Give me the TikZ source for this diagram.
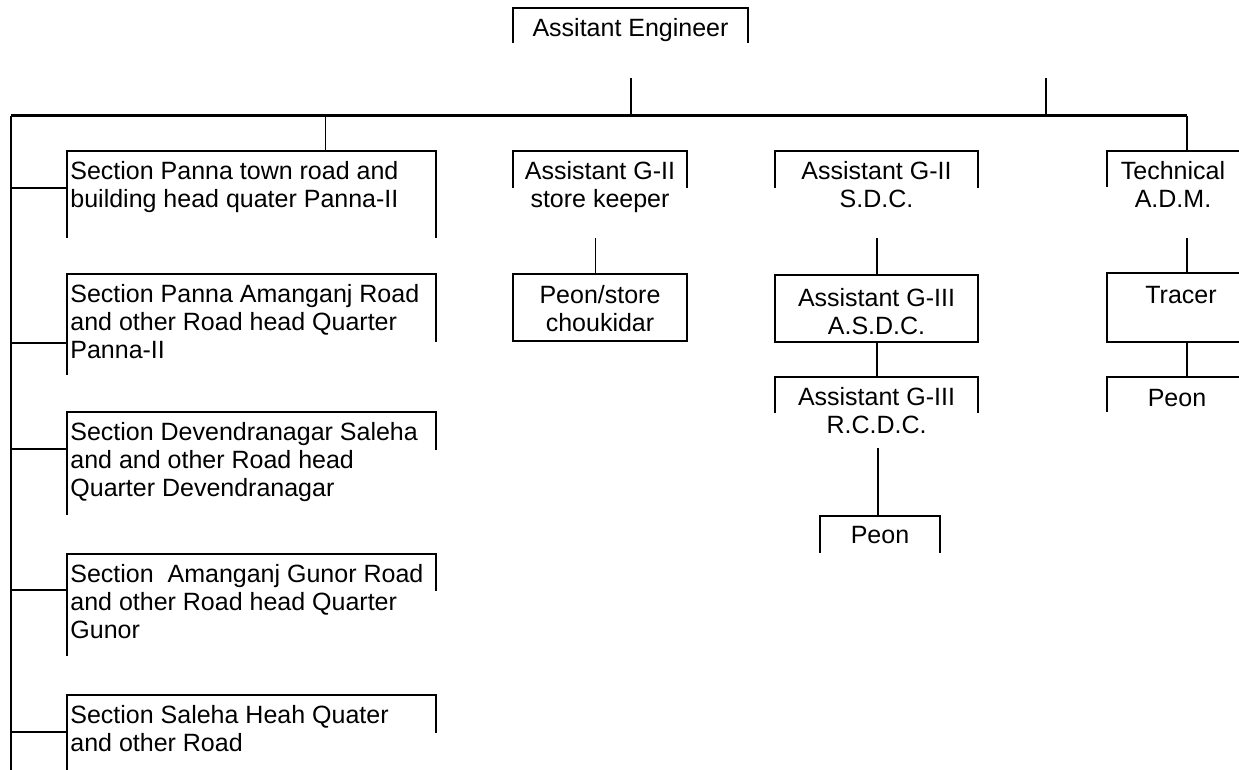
\documentclass[tikz,border=0pt]{standalone}
\usepackage{fontspec}
\setmainfont{Liberation Sans}
\begin{document}
\begin{tikzpicture}[x=0.5pt,y=-0.5pt,
  frame/.style={draw=none,inner sep=0pt,outer sep=0pt,rectangle},
  closed/.style={frame,draw=black,line width=1pt},
  txt/.style={inner sep=0pt,font=\fontsize{12.5}{14}\selectfont,align=center,anchor=north},
  ltxt/.style={inner sep=0pt,font=\fontsize{12.5}{14}\selectfont,align=left,anchor=north west},
  bline/.style={line width=1pt},
  thinline/.style={line width=0.5pt},
  trunk/.style={line width=1.5pt},
]
\clip (0,0) rectangle (1239,770);
\fill[white] (0,0) rectangle (1239,770);

% ---------- box frames ----------
\node[frame,minimum width=117.5pt,minimum height=35pt,anchor=north west] (ae) at (513,8) {};
\node[frame,minimum width=184.5pt,minimum height=43.5pt,anchor=north west] (s1) at (67,151) {};
\node[frame,minimum width=184.5pt,minimum height=50.5pt,anchor=north west] (s2) at (67,274) {};
\node[frame,minimum width=184.5pt,minimum height=51.5pt,anchor=north west] (s3) at (67,412) {};
\node[frame,minimum width=184.5pt,minimum height=51pt,anchor=north west] (s4) at (67,554) {};
\node[frame,minimum width=184.5pt,minimum height=37.5pt,anchor=north west] (s5) at (67,695) {};
\node[frame,minimum width=87pt,minimum height=43.5pt,anchor=north west] (sk) at (513,151) {};
\node[closed,minimum width=87pt,minimum height=33.5pt,anchor=north west] (ps) at (513,274) {};
\node[frame,minimum width=101.5pt,minimum height=43.5pt,anchor=north west] (sdc) at (775,151) {};
\node[closed,minimum width=101.5pt,minimum height=33.5pt,anchor=north west] (asdc) at (775,275) {};
\node[frame,minimum width=101.5pt,minimum height=35.5pt,anchor=north west] (rcdc) at (775,377) {};
\node[frame,minimum width=60pt,minimum height=18.5pt,anchor=north west] (p2) at (820,516) {};
\node[frame,minimum width=80pt,minimum height=43.5pt,anchor=north west] (te) at (1107,151) {};
\node[closed,minimum width=80pt,minimum height=34.5pt,anchor=north west] (tr) at (1107,273) {};
\node[frame,minimum width=80pt,minimum height=20pt,anchor=north west] (p3) at (1107,377) {};

% ---------- open box borders (top and side stubs) ----------
\draw[bline] (ae.north west) ++(0,35) -- ++(0,-35) -- (ae.north east) -- ++(0,35);
\draw[bline] (s1.north west) ++(0,87) -- ++(0,-87) -- (s1.north east) -- ++(0,87);
\draw[bline] (s2.north west) ++(0,101) -- ++(0,-101) -- (s2.north east) -- ++(0,68);
\draw[bline] (s3.north west) ++(0,103) -- ++(0,-103) -- (s3.north east) -- ++(0,38);
\draw[bline] (s4.north west) ++(0,102) -- ++(0,-102) -- (s4.north east) -- ++(0,37);
\draw[bline] (s5.north west) ++(0,80) -- ++(0,-80) -- (s5.north east) -- ++(0,38);
\draw[bline] (sk.north west) ++(0,37) -- ++(0,-37) -- (sk.north east) -- ++(0,37);
\draw[bline] (sdc.north west) ++(0,37) -- ++(0,-37) -- (sdc.north east) -- ++(0,37);
\draw[bline] (rcdc.north west) ++(0,36) -- ++(0,-36) -- (rcdc.north east) -- ++(0,36);
\draw[bline] (p2.north west) ++(0,37) -- ++(0,-37) -- (p2.north east) -- ++(0,37);
\draw[bline] (te.north west) ++(0,36) -- ++(0,-36) -- (te.north east) -- ++(0,36);
\draw[bline] (p3.north west) ++(0,35) -- ++(0,-35) -- (p3.north east) -- ++(0,35);

% ---------- texts ----------
\node[txt] (ae-t) at ([yshift=-5pt]ae.north) {Assitant Engineer};
\node[ltxt] (s1-t) at ([xshift=1.5pt,yshift=-5pt]s1.north west) {Section Panna town road and\\building head quater Panna-II};
\node[ltxt] (s2-t) at ([xshift=1.5pt,yshift=-5pt]s2.north west) {Section Panna Amanganj Road\\and other Road head Quarter\\Panna-II};
\node[ltxt] (s3-t) at ([xshift=1.5pt,yshift=-5pt]s3.north west) {Section Devendranagar Saleha\\and and other Road head\\Quarter Devendranagar};
\node[ltxt] (s4-t) at ([xshift=1.5pt,yshift=-5pt]s4.north west) {Section\ \ Amanganj Gunor Road\\and other Road head Quarter\\Gunor};
\node[ltxt] (s5-t) at ([xshift=1.5pt,yshift=-5pt]s5.north west) {Section Saleha Heah Quater\\and other Road};
\node[txt] (sk-t) at ([yshift=-5pt]sk.north) {Assistant G-II\\store keeper};
\node[txt] (ps-t) at ([yshift=-5.5pt]ps.north) {Peon/store\\choukidar};
\node[txt] (sdc-t) at ([yshift=-5pt]sdc.north) {Assistant G-II\\S.D.C.};
\node[txt] (asdc-t) at ([yshift=-6.5pt]asdc.north) {Assistant G-III\\A.S.D.C.};
\node[txt] (rcdc-t) at ([yshift=-5pt]rcdc.north) {Assistant G-III\\R.C.D.C.};
\node[txt] (p2-t) at ([yshift=-5pt]p2.north) {Peon};
\node[txt] (te-t) at ([xshift=-7pt,yshift=-5pt]te.north) {Technical\\A.D.M.};
\node[txt] (tr-t) at ([xshift=-3pt,yshift=-6.5pt]tr.north) {Tracer};
\node[txt] (p3-t) at ([xshift=-5pt,yshift=-6pt]p3.north) {Peon};

% ---------- trunk and connectors ----------
\coordinate (tl) at (11,116);
\coordinate (tre) at (te.north |- tl);
\coordinate (bl) at (11,772);
\coordinate (r1) at (1046,78);
\draw[trunk] (tl) -- (tre);
\draw[bline] (tl) -- (bl);
\draw[bline] (tre) -- (te.north);
\draw[bline] (ae.south) -- (ae.south |- tl);
\draw[bline] (r1) -- (r1 |- tl);
\draw[thinline] ([xshift=36.75pt]s1.north) -- ([xshift=36.75pt]s1.north |- tl);

\draw[bline] ([yshift=-18.5pt]s1.north west) coordinate (b1) -- (b1 -| tl);
\draw[bline] ([yshift=-34.5pt]s2.north west) coordinate (b2) -- (b2 -| tl);
\draw[bline] ([yshift=-18.5pt]s3.north west) coordinate (b3) -- (b3 -| tl);
\draw[bline] ([yshift=-18pt]s4.north west) coordinate (b4) -- (b4 -| tl);
\draw[bline] ([yshift=-18.5pt]s5.north west) coordinate (b5) -- (b5 -| tl);

\draw[thinline] ([xshift=-2.5pt]sk.south) -- ([xshift=-2.5pt]ps.north);
\draw[bline] (sdc.south) -- (asdc.north);
\draw[bline] (asdc.south) -- (rcdc.north);
\draw[bline] ([xshift=0.75pt]rcdc.south) -- ([xshift=0.75pt]rcdc.south |- p2.north);
\draw[bline] (te.south) -- (tr.north);
\draw[bline] (tr.south) -- (p3.north);
\end{tikzpicture}
\end{document}
